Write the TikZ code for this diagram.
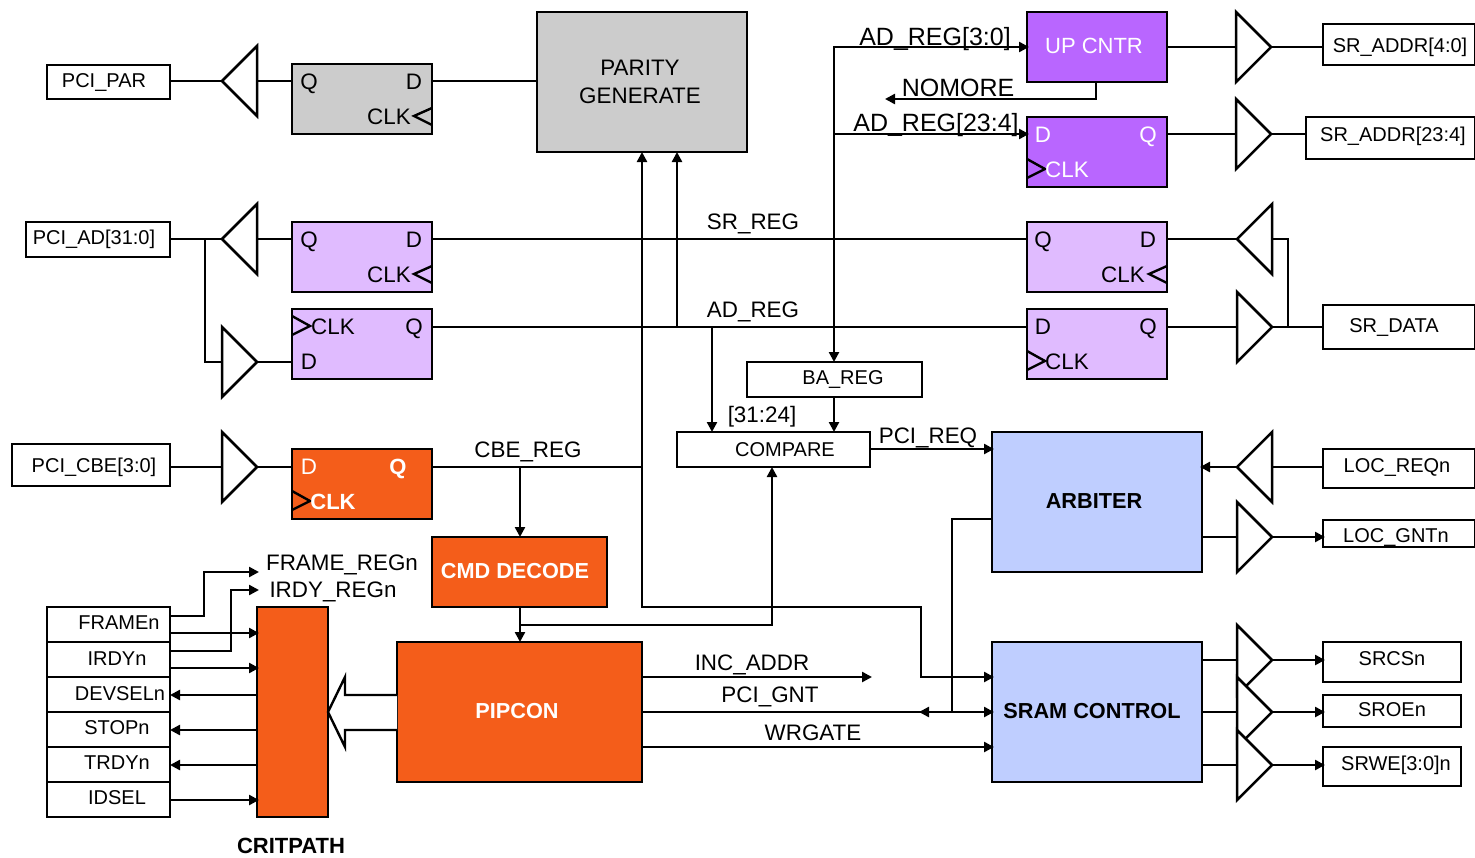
\documentclass[tikz,border=0pt]{standalone}
\usepackage{fontspec}
\setmainfont{Liberation Sans}
\usetikzlibrary{shapes.geometric,arrows.meta}
\definecolor{cgrey}{HTML}{CCCCCC}
\definecolor{clav}{HTML}{E0BBFF}
\definecolor{cpur}{HTML}{B966FF}
\definecolor{corg}{HTML}{F45D1A}
\definecolor{cblu}{HTML}{BFCEFF}
\newcommand\fs[1]{\fontsize{#1}{#1}\selectfont}
\tikzset{
  x=1pt,y=-1pt,
  bx/.style={draw,line width=2.5pt,inner sep=0pt,outer sep=0pt,font=\fs{20},text height=14.4pt,text depth=0pt},
  tall/.style={text height={},text depth={},align=center,font=\fs{22.4}},
  big/.style={font=\fs{22}},
  hvy/.style={font=\fs{21.7}\bfseries},
  wht/.style={text=white},
  lbl/.style={inner sep=0pt,outer sep=0pt,font=\fs{22.4},text height=16.1pt,text depth=0pt},
  lblb/.style={lbl,font=\fs{25},text height=18pt},
  buf/.style={draw,fill=white,line width=2.5pt,isosceles triangle,isosceles triangle stretches,
    minimum width=70pt,minimum height=35pt,inner sep=0pt,outer sep=0pt,anchor=apex},
  wire/.style={draw,line width=2.4pt},
  arr/.style={wire,-{Triangle[length=10pt,width=10pt]}},
  clk/.style={draw,line width=2.4pt},
}
% [style]{name}{x1}{y1}{x2}{y2}{text cx}{text cy}{text}
\newcommand\bx[9][]{%
  \pgfmathsetmacro\bw{#5-#3}\pgfmathsetmacro\bh{#6-#4}%
  \pgfmathsetmacro\cx{(#3+#5)/2}\pgfmathsetmacro\cy{(#4+#6)/2}%
  \pgfmathsetmacro\kx{2*(#7-\cx)}\pgfmathsetmacro\ry{\cy-#8}%
  \node[bx,minimum width=\bw pt,minimum height=\bh pt,#1] (#2) at (\cx,\cy)
    {\raisebox{\ry pt}{\kern\kx pt #9}};}
\newcommand\tri[4]{\node[buf,shape border rotate=#4] (#1) at (#2,#3) {};}
\newcommand\tx[5][]{\node[lbl,#1] (#2) at (#3,#4) {#5};}
\begin{document}
\begin{tikzpicture}
\useasboundingbox (0,0) rectangle (1475,857);
% boxes
\bx{par}{47}{65}{170}{99}{104}{80}{PCI\_PAR}
\bx{adp}{26}{222}{170}{257}{94}{237}{PCI\_AD[31:0]}
\bx{cbe}{12}{444}{170}{486}{94}{465}{PCI\_CBE[3:0]}
\bx[fill=cgrey]{ffg}{292}{64}{432}{134}{362}{99}{}
\bx[fill=clav]{ffa}{292}{222}{432}{292}{362}{257}{}
\bx[fill=clav]{ffb}{292}{309}{432}{379}{362}{344}{}
\bx[fill=corg]{ffc}{292}{449}{432}{519}{362}{484}{}
\bx[fill=clav]{ffd}{1027}{222}{1167}{292}{1097}{257}{}
\bx[fill=clav]{ffe}{1027}{309}{1167}{379}{1097}{344}{}
\bx[fill=cpur]{fff}{1027}{117}{1167}{187}{1097}{152}{}
\bx[fill=cpur,big,wht]{upc}{1027}{12}{1167}{82}{1094}{46}{UP CNTR}
\node[bx,tall,fill=cgrey,minimum width=210pt,minimum height=140pt] (pgen) at (642,82) {\kern-4pt PARITY\\[6pt]\kern-4pt GENERATE};
\bx{bar}{747}{362}{922}{397}{843}{377}{BA\_REG}
\bx{cmp}{677}{432}{870}{467}{785}{449}{COMPARE}
\bx[fill=cblu,hvy]{arb}{992}{432}{1202}{572}{1094}{501}{ARBITER}
\bx[fill=cblu,hvy]{sram}{992}{642}{1202}{782}{1092}{711}{SRAM CONTROL}
\bx[fill=corg,hvy,wht]{cmd}{432}{537}{607}{607}{515}{571}{CMD DECODE}
\bx[fill=corg,hvy,wht]{pip}{397}{642}{642}{782}{517}{711}{PIPCON}
\bx[fill=corg]{crit}{257}{607}{328}{817}{292}{712}{}
\bx{fr}{47}{607}{170}{642}{119}{622}{FRAMEn}
\bx{ir}{47}{642}{170}{677}{117}{658}{IRDYn}
\bx{de}{47}{677}{170}{712}{120}{693}{DEVSELn}
\bx{st}{47}{712}{170}{747}{117}{727}{STOPn}
\bx{tr}{47}{747}{170}{782}{117}{762}{TRDYn}
\bx{id}{47}{782}{170}{817}{117}{797}{IDSEL}
\bx{sa}{1323}{24}{1475}{65}{1400}{45}{SR\_ADDR[4:0]}
\bx{sb}{1306}{117}{1475}{159}{1393}{134}{SR\_ADDR[23:4]}
\bx{sd}{1323}{305}{1475}{349}{1394}{325}{SR\_DATA}
\bx{lr}{1323}{449}{1475}{488}{1397}{465}{LOC\_REQn}
\bx{lg}{1323}{520}{1475}{547}{1396}{535}{LOC\_GNTn}
\bx{cs}{1323}{642}{1461}{682}{1392}{658}{SRCSn}
\bx{oe}{1323}{695}{1461}{727}{1392}{709}{SROEn}
\bx{we}{1323}{747}{1461}{786}{1396}{763}{SRWE[3:0]n}
% buffers
\tri{t1}{222}{81}{180}
\tri{t2}{222}{239}{180}
\tri{t3}{257}{362}{0}
\tri{t4}{257}{467}{0}
\tri{t5}{1271}{47}{0}
\tri{t6}{1271}{134}{0}
\tri{t7}{1237}{239}{180}
\tri{t8}{1272}{327}{0}
\tri{t9}{1237}{467}{180}
\tri{t10}{1272}{537}{0}
\tri{t11}{1272}{660}{0}
\tri{t12}{1272}{712}{0}
\tri{t13}{1272}{765}{0}
% clock marks
\draw[clk] (432,108) -- (414,116) -- (432,125);
\draw[clk] (432,266) -- (414,274) -- (432,283);
\draw[clk] (1167,266) -- (1149,274) -- (1167,283);
\draw[clk] (292,316) -- (310,326) -- (292,335);
\draw[clk] (292,491) -- (310,501) -- (292,510);
\draw[clk] (1027,351) -- (1045,361) -- (1027,370);
\draw[clk] (1027,159) -- (1045,169) -- (1027,178);
% pin text
\tx{g1}{309}{81}{Q}\tx{g2}{414}{81}{D}\tx{g3}{389}{116}{CLK}
\tx{a1}{309}{239}{Q}\tx{a2}{414}{239}{D}\tx{a3}{389}{274}{CLK}
\tx{b1}{333}{326}{CLK}\tx{b2}{414}{326}{Q}\tx{b3}{309}{361}{D}
\tx[text=white]{c1}{309}{466}{D}\tx[text=white,font=\fs{22}\bfseries]{c2}{398}{466}{Q}\tx[text=white,font=\fs{22}\bfseries]{c3}{333}{501}{CLK}
\tx{d1}{1043}{239}{Q}\tx{d2}{1148}{239}{D}\tx{d3}{1123}{274}{CLK}
\tx{e1}{1043}{326}{D}\tx{e2}{1148}{326}{Q}\tx{e3}{1067}{361}{CLK}
\tx[text=white]{f1}{1043}{134}{D}\tx[text=white]{f2}{1148}{134}{Q}\tx[text=white]{f3}{1067}{169}{CLK}
% hollow bus arrow
\draw[clk,fill=white,line join=miter] (pip.west |- 0,695) -- (345,695) -- (345,677) -- (crit.east |- 0,712) -- (345,747) -- (345,730) -- (pip.west |- 0,730);
% connectors left
\draw[wire] (par.east |- 0,81) -- (t1.apex);
\draw[wire] (t1.lower side) -- (ffg.west |- 0,81);
\draw[wire] (ffg.east |- 0,81) -- (pgen.west |- 0,81);
\draw[wire] (adp.east |- 0,239) -- (t2.apex);
\draw[wire] (t2.lower side) -- (ffa.west |- 0,239);
\draw[wire] (205,239) -- (205,362) -- (t3.lower side);
\draw[wire] (t3.apex) -- (ffb.west |- 0,362);
\draw[wire] (cbe.east |- 0,467) -- (t4.lower side);
\draw[wire] (t4.apex) -- (ffc.west |- 0,467);
\draw[wire] (ffa.east |- 0,239) -- (ffd.west |- 0,239);
\draw[wire] (ffb.east |- 0,327) -- (ffe.west |- 0,327);
\draw[arr] (677,327) -- (pgen.south -| 677,0);
\draw[arr] (ffc.east |- 0,467) -- (642,467) -- (pgen.south -| 642,0);
\draw[arr] (642,467) -- (642,607) -- (921,607) -- (921,677) -- ([xshift=2pt]sram.west |- 0,677);
\draw[arr] (712,327) -- (cmp.north -| 712,0);
\draw[arr] (834,134) -- (bar.north -| 834,0);
\draw[arr] (834,134) -- (834,47) -- ([xshift=2pt]upc.west |- 0,47);
\draw[arr] (834,134) -- ([xshift=2pt]fff.west |- 0,134);
\draw[arr] (bar.south -| 834,0) -- (cmp.north -| 834,0);
\draw[arr] (cmp.east |- 0,449) -- ([xshift=2pt]arb.west |- 0,449);
\draw[arr] (upc.south -| 1096,0) -- (1096,99) -- (885,99);
\draw[wire] (arb.west |- 0,519) -- (952,519) -- (952,712);
\draw[arr] (520,467) -- (cmd.north -| 520,0);
\draw[arr] (cmd.south -| 520,0) -- (pip.north -| 520,0);
\draw[arr] (520,625) -- (772,625) -- (cmp.south -| 772,0);
\draw[arr] (pip.east |- 0,677) -- (872,677);
\draw[arr] (pip.east |- 0,712) -- ([xshift=2pt]sram.west |- 0,712);
\draw[arr] (952,712) -- (919,712);
\draw[arr] (pip.east |- 0,747) -- ([xshift=2pt]sram.west |- 0,747);
% connectors critpath
\draw[arr] (fr.east |- 0,616) -- (204,616) -- (204,572) -- (259,572);
\draw[arr] (fr.east |- 0,633) -- ([xshift=2pt]crit.west |- 0,633);
\draw[arr] (ir.east |- 0,651) -- (231,651) -- (231,590) -- (259,590);
\draw[arr] (ir.east |- 0,668) -- ([xshift=2pt]crit.west |- 0,668);
\draw[arr] (crit.west |- 0,695) -- (de.east |- 0,695);
\draw[arr] (crit.west |- 0,730) -- (st.east |- 0,730);
\draw[arr] (crit.west |- 0,765) -- (tr.east |- 0,765);
\draw[arr] (id.east |- 0,800) -- ([xshift=2pt]crit.west |- 0,800);
% connectors right
\draw[wire] (upc.east |- 0,47) -- (t5.lower side);
\draw[wire] (t5.apex) -- (sa.west |- 0,47);
\draw[wire] (fff.east |- 0,134) -- (t6.lower side);
\draw[wire] (t6.apex) -- (sb.west |- 0,134);
\draw[wire] (ffd.east |- 0,239) -- (t7.apex);
\draw[wire] (t7.lower side) -- (1288,239) -- (1288,327);
\draw[wire] (ffe.east |- 0,327) -- (t8.lower side);
\draw[wire] (t8.apex) -- (sd.west |- 0,327);
\draw[wire] (lr.west |- 0,467) -- (t9.lower side);
\draw[arr] (t9.apex) -- ([xshift=-2pt]arb.east |- 0,467);
\draw[wire] (arb.east |- 0,537) -- (t10.lower side);
\draw[arr] (t10.apex) -- ([xshift=2pt]lg.west |- 0,537);
\draw[wire] (sram.east |- 0,660) -- (t11.lower side);
\draw[wire] (sram.east |- 0,712) -- (t12.lower side);
\draw[wire] (sram.east |- 0,765) -- (t13.lower side);
\draw[arr] (t11.apex) -- ([xshift=2pt]cs.west |- 0,660);
\draw[arr] (t12.apex) -- ([xshift=2pt]oe.west |- 0,712);
\draw[arr] (t13.apex) -- ([xshift=2pt]we.west |- 0,765);
% signal labels
\tx{l1}{753}{221}{SR\_REG}
\tx{l2}{753}{309}{AD\_REG}
\tx{l3}{528}{449}{CBE\_REG}
\tx{l4}{762}{414}{[31:24]}
\tx{l5}{928}{435}{PCI\_REQ}
\tx{l6}{752}{662}{INC\_ADDR}
\tx{l7}{770}{694}{PCI\_GNT}
\tx{l8}{813}{732}{WRGATE}
\tx{l9}{342}{562}{FRAME\_REGn}
\tx{l10}{333}{589}{IRDY\_REGn}
\tx[font=\fs{22}\bfseries]{l11}{291}{845}{CRITPATH}
\node[lblb] (l12) at (935,36) {AD\_REG[3:0]};
\node[lblb] (l13) at (958,87) {NOMORE};
\node[lblb] (l14) at (936,122) {AD\_REG[23:4]};
\end{tikzpicture}
\end{document}
